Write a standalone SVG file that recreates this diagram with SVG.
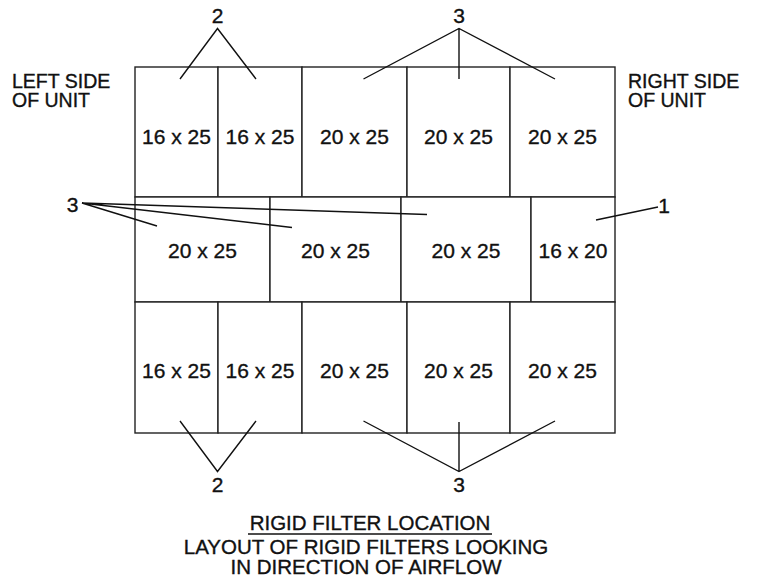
<svg xmlns="http://www.w3.org/2000/svg" width="771" height="588" viewBox="0 0 771 588">
<style>
.cell{fill:#fff;stroke:#222;stroke-width:1.4}
.t{font-family:"Liberation Sans",Arial,sans-serif;font-size:21px;fill:#111;stroke:#111;stroke-width:0.35;text-anchor:middle}
.l{font-family:"Liberation Sans",Arial,sans-serif;font-size:19.5px;fill:#111;stroke:#111;stroke-width:0.35}
.h{font-family:"Liberation Sans",Arial,sans-serif;font-size:20.5px;fill:#111;stroke:#111;stroke-width:0.35;text-anchor:middle}
.ld{stroke:#111;stroke-width:1.4;fill:none}
</style>
<rect width="771" height="588" fill="#fff"/>
<g id="row1">
<g id="r1c1"><rect class="cell" x="135" y="67" width="83" height="130"/><text class="t" x="176.5" y="144">16 x 25</text></g>
<g id="r1c2"><rect class="cell" x="218" y="67" width="84" height="130"/><text class="t" x="260" y="144">16 x 25</text></g>
<g id="r1c3"><rect class="cell" x="302" y="67" width="105" height="130"/><text class="t" x="354.5" y="144">20 x 25</text></g>
<g id="r1c4"><rect class="cell" x="407" y="67" width="103" height="130"/><text class="t" x="458.5" y="144">20 x 25</text></g>
<g id="r1c5"><rect class="cell" x="510" y="67" width="105" height="130"/><text class="t" x="562.5" y="144">20 x 25</text></g>
</g>
<g id="row2">
<g id="r2c1"><rect class="cell" x="135" y="197" width="135" height="105"/><text class="t" x="202.5" y="258">20 x 25</text></g>
<g id="r2c2"><rect class="cell" x="270" y="197" width="131" height="105"/><text class="t" x="335.5" y="258">20 x 25</text></g>
<g id="r2c3"><rect class="cell" x="401" y="197" width="130" height="105"/><text class="t" x="466" y="258">20 x 25</text></g>
<g id="r2c4"><rect class="cell" x="531" y="197" width="84" height="105"/><text class="t" x="573" y="258">16 x 20</text></g>
</g>
<g id="row3">
<g id="r3c1"><rect class="cell" x="135" y="302" width="83" height="131"/><text class="t" x="176.5" y="378">16 x 25</text></g>
<g id="r3c2"><rect class="cell" x="218" y="302" width="84" height="131"/><text class="t" x="260" y="378">16 x 25</text></g>
<g id="r3c3"><rect class="cell" x="302" y="302" width="105" height="131"/><text class="t" x="354.5" y="378">20 x 25</text></g>
<g id="r3c4"><rect class="cell" x="407" y="302" width="103" height="131"/><text class="t" x="458.5" y="378">20 x 25</text></g>
<g id="r3c5"><rect class="cell" x="510" y="302" width="105" height="131"/><text class="t" x="562.5" y="378">20 x 25</text></g>
</g>
<g id="connectors">
<path class="ld" d="M180 79 L217.5 28.5 L256 79"/>
<path class="ld" d="M363.5 79 L459 28.5 L555 79 M459 28.5 L459 79"/>
<path class="ld" d="M157 226 L82 203 L292 227.5 M82 203 L427 214.5"/>
<path class="ld" d="M596 220 L658 207"/>
<path class="ld" d="M180 421 L217.5 471.5 L256 421"/>
<path class="ld" d="M363.5 421 L459 471.5 L555 421 M459 471.5 L459 422"/>
</g>
<g id="labels">
<text class="t" x="217.5" y="23">2</text>
<text class="t" x="459" y="23">3</text>
<text class="t" x="72.5" y="212">3</text>
<text class="t" x="664" y="213">1</text>
<text class="t" x="217.5" y="492">2</text>
<text class="t" x="459" y="492">3</text>
<text class="l" x="12" y="88">LEFT SIDE</text>
<text class="l" x="12" y="107">OF UNIT</text>
<text class="l" x="628" y="88">RIGHT SIDE</text>
<text class="l" x="628" y="107">OF UNIT</text>
</g>
<g id="title">
<text class="h" x="370" y="530">RIGID FILTER LOCATION</text>
<line class="ld" x1="248" y1="534" x2="492" y2="534"/>
<text class="h" x="366" y="554">LAYOUT OF RIGID FILTERS LOOKING</text>
<text class="h" x="366" y="574">IN DIRECTION OF AIRFLOW</text>
</g>
</svg>
